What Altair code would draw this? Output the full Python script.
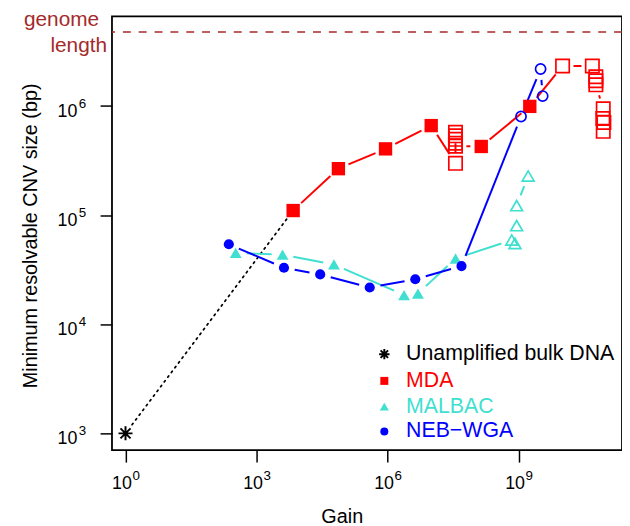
import math
import altair as alt
import pandas as pd

# ---------------- data ----------------
unamp_x = [1.0]
unamp_y = [1.0e3]

mda_x = [6.9e3, 7.5e4, 9.0e5, 1.0e7, 3.6e7, 3.6e7, 3.6e7, 3.6e7, 3.6e7, 3.6e7,
         1.4e8, 1.81e9, 1.02e10, 4.9e10, 5.9e10, 5.9e10, 5.9e10, 8.7e10, 8.5e10, 9.0e10, 8.7e10]
mda_y = [1.1e5, 2.66e5, 4.04e5, 6.6e5, 2.98e5, 5.73e5, 5.32e5, 4.94e5, 4.55e5, 4.28e5,
         4.25e5, 9.9e5, 2.32e6, 2.32e6, 1.85e6, 1.70e6, 1.56e6, 9.4e5, 7.67e5, 7.05e5, 5.85e5]
mda_filled = [1, 1, 1, 1, 0, 0, 0, 0, 0, 0, 1, 1, 0, 0, 0, 0, 0, 0, 0, 0, 0]

malbac_x = [334, 3.95e3, 5.93e4, 2.39e6, 4.97e6, 3.61e7, 6.98e8, 8.28e8, 9.06e8, 9.06e8, 1.66e9]
malbac_y = [4.5e4, 4.33e4, 3.53e4, 1.85e4, 1.91e4, 4.0e4, 5.9e4, 5.5e4, 8.0e4, 1.22e5, 2.28e5]
malbac_filled = [1, 1, 1, 1, 1, 1, 0, 0, 0, 0, 0]

neb_x = [232, 4.25e3, 2.87e4, 3.91e5, 4.32e6, 4.94e7, 1.14e9, 3.2e9, 3.57e9]
neb_y = [5.4e4, 3.29e4, 2.86e4, 2.17e4, 2.58e4, 3.41e4, 8.0e5, 2.18e6, 1.23e6]
neb_filled = [1, 1, 1, 1, 1, 1, 0, 0, 0]

genome_length = 4.75e6

series_names = ["Unamplified bulk DNA", "MDA", "MALBAC", "NEB\u2212WGA"]
series_colors = ["#000000", "#FF0000", "#40E0D0", "#0000FF"]
STAR = "M-1,0L1,0M0,-1L0,1M-0.72,-0.72L0.72,0.72M-0.72,0.72L0.72,-0.72"
series_shapes = [STAR, "square", "triangle-up", "circle"]
series_sizes = [220, 105, 175, 120]

x_ticks = [1, 1e3, 1e6, 1e9]
x_tick_exp = ["0", "3", "6", "9"]
y_ticks = [1e3, 1e4, 1e5, 1e6]
y_tick_exp = ["3", "4", "5", "6"]

FONT = "Liberation Sans"
W, H = 515, 438
X_DOMAIN = [0.49, 2.34e11]
Y_DOMAIN = [701, 6.6e6]
GAP = 11  # px left free around each marker along the line (R type="b")

# ---------------- tables ----------------
rows = []
def add(name, xs, ys, fl):
    for i, (a, b, f) in enumerate(zip(xs, ys, fl)):
        rows.append({"series": name, "gain": a, "cnv": b, "filled": f, "ord": i})

add(series_names[0], unamp_x, unamp_y, [0])
add(series_names[1], mda_x, mda_y, mda_filled)
add(series_names[2], malbac_x, malbac_y, malbac_filled)
add(series_names[3], neb_x, neb_y, neb_filled)
df = pd.DataFrame(rows)

# line pieces between consecutive points, shortened at both ends (type="b" gaps)
lx0, lx1 = math.log10(X_DOMAIN[0]), math.log10(X_DOMAIN[1])
ly0, ly1 = math.log10(Y_DOMAIN[0]), math.log10(Y_DOMAIN[1])
def to_px(a, b):
    return ((math.log10(a) - lx0) / (lx1 - lx0) * W, (math.log10(b) - ly0) / (ly1 - ly0) * H)
def from_px(u, v):
    return (10 ** (u / W * (lx1 - lx0) + lx0), 10 ** (v / H * (ly1 - ly0) + ly0))

def pieces(name, xs, ys):
    out = []
    for i in range(len(xs) - 1):
        u0, v0 = to_px(xs[i], ys[i])
        u1, v1 = to_px(xs[i + 1], ys[i + 1])
        d = math.hypot(u1 - u0, v1 - v0)
        if d <= 2 * GAP + 1:
            continue
        fu, fv = (u1 - u0) / d * GAP, (v1 - v0) / d * GAP
        a0, b0 = from_px(u0 + fu, v0 + fv)
        a1, b1 = from_px(u1 - fu, v1 - fv)
        out.append({"series": name, "gain": a0, "cnv": b0, "gain2": a1, "cnv2": b1})
    return out

seg_rows = (pieces(series_names[1], mda_x, mda_y)
            + pieces(series_names[2], malbac_x, malbac_y)
            + pieces(series_names[3], neb_x, neb_y))
segs = pd.DataFrame(seg_rows)
dotted = pd.DataFrame(pieces("dotted", [unamp_x[0], mda_x[0]], [unamp_y[0], mda_y[0]]))

xscale = alt.Scale(type="log", domain=X_DOMAIN, nice=False)
yscale = alt.Scale(type="log", domain=Y_DOMAIN, nice=False)
color_scale = alt.Scale(domain=series_names, range=series_colors)
shape_scale = alt.Scale(domain=series_names, range=series_shapes)
size_scale = alt.Scale(domain=series_names, range=series_sizes)

X = alt.X("gain:Q", scale=xscale,
          axis=alt.Axis(values=x_ticks, labels=False, title="Gain",
                        titleBaseline="alphabetic", titleY=73, titleX=232))
Y = alt.Y("cnv:Q", scale=yscale,
          axis=alt.Axis(values=y_ticks, labels=False,
                        title="Minimum resolvable CNV size (bp)",
                        titleBaseline="alphabetic", titleX=-76, titleY=221))

base = alt.Chart(df)

genome_rule = alt.Chart(pd.DataFrame({"cnv": [genome_length]})).mark_rule(
    color="#A52A2A", strokeDash=[8, 8], strokeWidth=1.6
).encode(y=alt.Y("cnv:Q", scale=yscale))

dot_line = alt.Chart(dotted).mark_rule(
    color="black", strokeDash=[1.5, 4.5], strokeWidth=1.8, strokeCap="round"
).encode(x=X, y=Y, x2="gain2:Q", y2="cnv2:Q")

seg_layer = alt.Chart(segs).mark_rule(strokeWidth=2).encode(
    x=X, y=Y, x2="gain2:Q", y2="cnv2:Q",
    color=alt.Color("series:N", scale=color_scale, legend=None),
)

filled_pts = base.transform_filter(alt.datum.filled == 1).mark_point(filled=True, opacity=1).encode(
    x=X, y=Y,
    color=alt.Color("series:N", scale=color_scale, legend=None),
    shape=alt.Shape("series:N", scale=shape_scale, legend=None),
    size=alt.Size("series:N", scale=size_scale, legend=None),
)

open_pts = base.transform_filter(
    (alt.datum.filled == 0) & (alt.datum.series != series_names[0])
).mark_point(filled=False, opacity=1, strokeWidth=1.7).encode(
    x=X, y=Y,
    color=alt.Color("series:N", scale=color_scale, legend=None),
    shape=alt.Shape("series:N", scale=shape_scale, legend=None),
    size=alt.Size("series:N", scale=size_scale, legend=None),
)

star_pt = base.transform_filter(alt.datum.series == series_names[0]).mark_point(
    shape=STAR, filled=False, color="black", opacity=1, size=200, strokeWidth=2
).encode(x=X, y=Y)

# tick labels as 10 + raised exponent (R plotmath style)
xt = pd.DataFrame({"gain": x_ticks, "exp": x_tick_exp})
yt = pd.DataFrame({"cnv": y_ticks, "exp": y_tick_exp})
xl_base = alt.Chart(xt).mark_text(text="10", align="right", baseline="alphabetic", fontSize=18,
                                  font=FONT, color="black", dx=6.5).encode(
    x=alt.X("gain:Q", scale=xscale), y=alt.value(H + 38.7))
xl_exp = alt.Chart(xt).mark_text(align="left", baseline="alphabetic", fontSize=13.5,
                                 font=FONT, color="black", dx=7).encode(
    x=alt.X("gain:Q", scale=xscale), y=alt.value(H + 29.7), text="exp:N")
yl_base = alt.Chart(yt).mark_text(text="10", align="right", baseline="alphabetic", fontSize=18,
                                  font=FONT, color="black", dy=10.7).encode(
    x=alt.value(-35), y=alt.Y("cnv:Q", scale=yscale))
yl_exp = alt.Chart(yt).mark_text(align="left", baseline="alphabetic", fontSize=13.5,
                                 font=FONT, color="black", dy=1.7).encode(
    x=alt.value(-33.5), y=alt.Y("cnv:Q", scale=yscale), text="exp:N")

# genome length label
glab1 = alt.Chart(pd.DataFrame({"cnv": [genome_length]})).mark_text(
    text="genome", align="right", baseline="alphabetic", fontSize=21,
    color="#A52A2A", dy=-6, font=FONT
).encode(x=alt.value(-13), y=alt.Y("cnv:Q", scale=yscale))
glab2 = alt.Chart(pd.DataFrame({"cnv": [genome_length]})).mark_text(
    text="length", align="right", baseline="alphabetic", fontSize=21,
    color="#A52A2A", dy=20, font=FONT
).encode(x=alt.value(-5), y=alt.Y("cnv:Q", scale=yscale))

# legend (manual, R-style)
leg_layers = []
leg_rows_y = [341, 368, 394, 419]
leg_sizes = [110, 65, 85, 65]
one = pd.DataFrame({"k": [0]})
for name, col, shp, yy, sz in zip(series_names, series_colors, series_shapes, leg_rows_y, leg_sizes):
    leg_layers.append(
        alt.Chart(one).mark_point(shape=shp, filled=(shp != STAR), color=col, opacity=1,
                                  size=sz, strokeWidth=2 if shp == STAR else 1)
        .encode(x=alt.value(275), y=alt.value(yy))
    )
    leg_layers.append(
        alt.Chart(one).mark_text(text=name, align="left", baseline="middle", fontSize=21.5,
                                 color=col, font=FONT)
        .encode(x=alt.value(297), y=alt.value(yy))
    )

chart = alt.layer(
    genome_rule, dot_line, seg_layer, filled_pts, open_pts, star_pt,
    xl_base, xl_exp, yl_base, yl_exp, glab1, glab2, *leg_layers
).properties(
    width=W, height=H, autosize="none",
    padding={"left": 105, "top": 6, "right": 0, "bottom": 74},
).configure_view(
    stroke="black", strokeWidth=1.8
).configure_axis(
    domain=False, grid=False, tickColor="black", tickWidth=1.5, tickSize=12,
    titleFont=FONT, titleFontSize=20, titleFontWeight="normal", titleColor="black",
)

chart.save("out.html", embed_options={"renderer": "svg", "actions": False})
